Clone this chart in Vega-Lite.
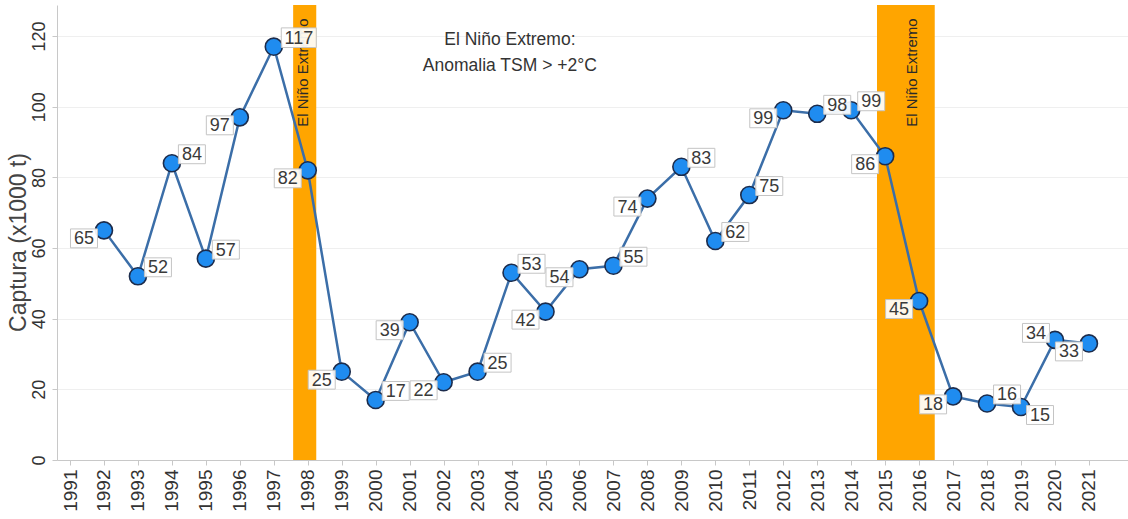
{
  "$schema": "https://vega.github.io/schema/vega-lite/v6.json",
  "autosize": "none",
  "width": 1071,
  "height": 455,
  "padding": {"left": 57, "top": 5, "right": 0, "bottom": 59},
  "background": "white",
  "config": {
    "font": "Liberation Sans",
    "view": {"stroke": null},
    "axis": {"labelColor": "#333333", "titleColor": "#444444", "domainColor": "#c8c8c8", "tickColor": "#c8c8c8", "gridColor": "#efefef"}
  },
  "datasets": {
    "captura": [
      {"anio": 1992, "captura": 65, "pos": "SO"},
      {"anio": 1993, "captura": 52, "pos": "NE"},
      {"anio": 1994, "captura": 84, "pos": "NE"},
      {"anio": 1995, "captura": 57, "pos": "NE"},
      {"anio": 1996, "captura": 97, "pos": "SO"},
      {"anio": 1997, "captura": 117, "pos": "NE"},
      {"anio": 1998, "captura": 82, "pos": "SO"},
      {"anio": 1999, "captura": 25, "pos": "SO"},
      {"anio": 2000, "captura": 17, "pos": "NE"},
      {"anio": 2001, "captura": 39, "pos": "SO"},
      {"anio": 2002, "captura": 22, "pos": "SO"},
      {"anio": 2003, "captura": 25, "pos": "NE"},
      {"anio": 2004, "captura": 53, "pos": "NE"},
      {"anio": 2005, "captura": 42, "pos": "SO"},
      {"anio": 2006, "captura": 54, "pos": "SO"},
      {"anio": 2007, "captura": 55, "pos": "NE"},
      {"anio": 2008, "captura": 74, "pos": "SO"},
      {"anio": 2009, "captura": 83, "pos": "NE"},
      {"anio": 2010, "captura": 62, "pos": "NE"},
      {"anio": 2011, "captura": 75, "pos": "NE"},
      {"anio": 2012, "captura": 99, "pos": "SO"},
      {"anio": 2013, "captura": 98, "pos": "NE"},
      {"anio": 2014, "captura": 99, "pos": "NE"},
      {"anio": 2015, "captura": 86, "pos": "SO"},
      {"anio": 2016, "captura": 45, "pos": "SO"},
      {"anio": 2017, "captura": 18, "pos": "SO"},
      {"anio": 2018, "captura": 16, "pos": "NE"},
      {"anio": 2019, "captura": 15, "pos": "SE"},
      {"anio": 2020, "captura": 34, "pos": "NO"},
      {"anio": 2021, "captura": 33, "pos": "SO"}
    ],
    "nino": [
      {"inicio": 1997.57, "fin": 1998.25, "centro": 1997.87, "tope": 125, "etiqueta": "El Niño Extremo"},
      {"inicio": 2014.76, "fin": 2016.46, "centro": 2015.8, "tope": 125, "etiqueta": "El Niño Extremo"}
    ],
    "nota": [
      {"anio": 2003.95, "captura": 121.5, "texto": "El Niño Extremo:\nAnomalia TSM > +2°C"}
    ]
  },
  "encoding": {
    "x": {
      "field": "anio", "type": "quantitative",
      "scale": {"domain": [1990.617, 2022.15], "nice": false, "zero": false},
      "axis": {
        "title": null, "values": [1991,1992,1993,1994,1995,1996,1997,1998,1999,2000,2001,2002,2003,2004,2005,2006,2007,2008,2009,2010,2011,2012,2013,2014,2015,2016,2017,2018,2019,2020,2021],
        "format": "d", "labelAngle": -90, "labelAlign": "right", "labelBaseline": "middle",
        "labelFontSize": 19, "labelPadding": 4, "tickSize": 5, "grid": false, "labelFlush": false, "labelOverlap": false
      }
    },
    "y": {
      "field": "captura", "type": "quantitative",
      "scale": {"domain": [0, 128.8], "nice": false},
      "axis": {
        "title": "Captura (x1000 t)", "titleFontSize": 23, "titleFontWeight": "normal",
        "titleAngle": -90, "titleX": -32, "titleY": 237, "titleAlign": "center", "titleBaseline": "alphabetic",
        "values": [0, 20, 40, 60, 80, 100, 120], "labelAngle": -90, "labelAlign": "center", "labelBaseline": "bottom",
        "labelFontSize": 18, "labelPadding": 4, "tickSize": 5, "grid": true, "gridWidth": 1
      }
    }
  },
  "layer": [
    {
      "data": {"name": "nino"},
      "mark": {"type": "rect", "color": "#FFA500", "opacity": 1},
      "encoding": {"x": {"field": "inicio", "type": "quantitative"}, "x2": {"field": "fin"}, "y": null}
    },
    {
      "data": {"name": "nino"},
      "mark": {"type": "text", "angle": 270, "align": "right", "baseline": "middle", "fontSize": 15, "fill": "#2a2a2a", "opacity": 1},
      "encoding": {"x": {"field": "centro", "type": "quantitative"}, "y": {"field": "tope", "type": "quantitative"}, "text": {"field": "etiqueta", "type": "nominal"}}
    },
    {
      "data": {"name": "captura"},
      "mark": {"type": "line", "color": "#3b6ea8", "strokeWidth": 2.5},
      "encoding": {}
    },
    {
      "data": {"name": "captura"},
      "mark": {"type": "point", "shape": "circle", "filled": true, "fill": "#1f8cf0", "stroke": "#1c2c4c", "strokeWidth": 1.6, "size": 290, "opacity": 1},
      "encoding": {}
    },
    {
      "data": {"name": "captura"},
      "transform": [{"filter": "datum.pos == 'NE' && datum.captura < 100"}],
      "layer": [
        {"mark": {"type": "point", "shape": "M-1,-0.7H1V0.7H-1Z", "size": 729, "filled": true, "fill": "white", "fillOpacity": 0.92, "stroke": "#c4c4c4", "strokeWidth": 1, "xOffset": 20, "yOffset": -9, "opacity": 1}, "encoding": {}},
        {"mark": {"type": "text", "fontSize": 18, "color": "#3a3a3a", "dx": 20, "dy": -8, "align": "center", "baseline": "middle"}, "encoding": {"text": {"field": "captura"}}}
      ]
    },
    {
      "data": {"name": "captura"},
      "transform": [{"filter": "datum.pos == 'NE' && datum.captura >= 100"}],
      "layer": [
        {"mark": {"type": "point", "shape": "M-1,-0.56H1V0.56H-1Z", "size": 1225, "filled": true, "fill": "white", "fillOpacity": 0.92, "stroke": "#c4c4c4", "strokeWidth": 1, "xOffset": 25, "yOffset": -9, "opacity": 1}, "encoding": {}},
        {"mark": {"type": "text", "fontSize": 18, "color": "#3a3a3a", "dx": 25, "dy": -8, "align": "center", "baseline": "middle"}, "encoding": {"text": {"field": "captura"}}}
      ]
    },
    {
      "data": {"name": "captura"},
      "transform": [{"filter": "datum.pos == 'SO'"}],
      "layer": [
        {"mark": {"type": "point", "shape": "M-1,-0.7H1V0.7H-1Z", "size": 729, "filled": true, "fill": "white", "fillOpacity": 0.92, "stroke": "#c4c4c4", "strokeWidth": 1, "xOffset": -20, "yOffset": 8, "opacity": 1}, "encoding": {}},
        {"mark": {"type": "text", "fontSize": 18, "color": "#3a3a3a", "dx": -20, "dy": 9, "align": "center", "baseline": "middle"}, "encoding": {"text": {"field": "captura"}}}
      ]
    },
    {
      "data": {"name": "captura"},
      "transform": [{"filter": "datum.pos == 'SE'"}],
      "layer": [
        {"mark": {"type": "point", "shape": "M-1,-0.7H1V0.7H-1Z", "size": 729, "filled": true, "fill": "white", "fillOpacity": 0.92, "stroke": "#c4c4c4", "strokeWidth": 1, "xOffset": 19, "yOffset": 8, "opacity": 1}, "encoding": {}},
        {"mark": {"type": "text", "fontSize": 18, "color": "#3a3a3a", "dx": 19, "dy": 9, "align": "center", "baseline": "middle"}, "encoding": {"text": {"field": "captura"}}}
      ]
    },
    {
      "data": {"name": "captura"},
      "transform": [{"filter": "datum.pos == 'NO'"}],
      "layer": [
        {"mark": {"type": "point", "shape": "M-1,-0.7H1V0.7H-1Z", "size": 729, "filled": true, "fill": "white", "fillOpacity": 0.92, "stroke": "#c4c4c4", "strokeWidth": 1, "xOffset": -19, "yOffset": -7, "opacity": 1}, "encoding": {}},
        {"mark": {"type": "text", "fontSize": 18, "color": "#3a3a3a", "dx": -19, "dy": -6, "align": "center", "baseline": "middle"}, "encoding": {"text": {"field": "captura"}}}
      ]
    },
    {
      "data": {"name": "nota"},
      "mark": {"type": "text", "fontSize": 17.5, "color": "#333333", "align": "center", "baseline": "top", "lineBreak": "\n", "lineHeight": 26},
      "encoding": {"text": {"field": "texto"}}
    }
  ]
}
